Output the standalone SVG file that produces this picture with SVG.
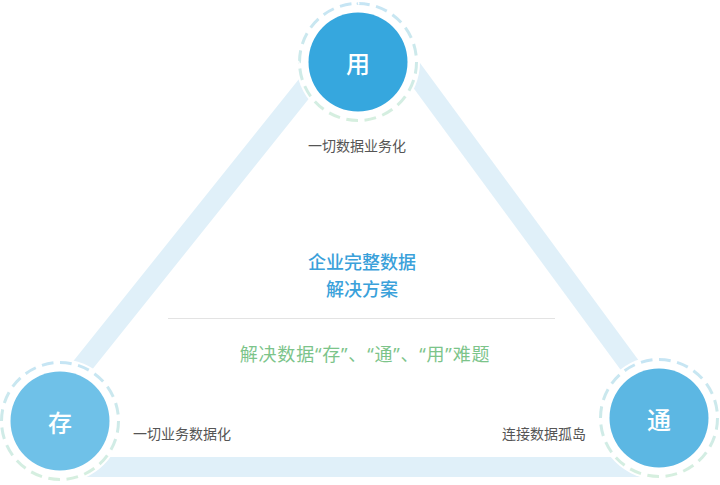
<svg xmlns="http://www.w3.org/2000/svg" width="720" height="485" viewBox="0 0 720 485">
<defs>
<linearGradient id="ringGrad" x1="0" y1="0" x2="0" y2="1">
<stop offset="0" stop-color="#c6e5f4"/>
<stop offset="1" stop-color="#d6efdf"/>
</linearGradient>
<style>
.band{stroke:#e0f0f9;stroke-width:20;fill:none}
.halo{fill:#ffffff}
.ring{fill:none;stroke:url(#ringGrad);stroke-width:3;stroke-dasharray:3.2 1.8}
.glyph{font-family:"Noto Sans CJK SC","Noto Sans",sans-serif;font-size:24px;font-weight:500;fill:#ffffff;text-anchor:middle;dominant-baseline:central}
.lbl{font-family:"Noto Sans CJK SC","Noto Sans",sans-serif;font-size:14px;fill:#555555}
.title{font-family:"Noto Sans CJK SC","Noto Sans",sans-serif;font-size:18px;font-weight:500;fill:#3aa1da;text-anchor:middle}
.sub{font-family:"Noto Sans CJK SC","Noto Sans",sans-serif;font-size:18px;letter-spacing:0.8px;fill:#7cc48a;text-anchor:middle}
.q{font-family:"Noto Sans",sans-serif}
</style>
</defs>
<rect width="720" height="485" fill="#ffffff"/>
<g id="connectors">
<line class="band" x1="343" y1="40" x2="39" y2="420"/>
<line class="band" x1="398" y1="50" x2="670" y2="420"/>
<line class="band" x1="60" y1="467" x2="659" y2="467"/>
</g>
<g id="node-yong">
<circle class="halo" cx="358" cy="62" r="62"/>
<circle class="ring" cx="358" cy="62" r="58.5" pathLength="100"/>
<circle cx="358" cy="62" r="49.5" fill="#36a7de"/>
<text class="glyph" x="358" y="62">用</text>
<text class="lbl" x="357" y="151" text-anchor="middle">一切数据业务化</text>
</g>
<g id="node-cun">
<circle class="halo" cx="60" cy="421" r="62"/>
<circle class="ring" cx="60" cy="421" r="58.5" pathLength="100"/>
<circle cx="60" cy="421" r="49.5" fill="#6fc1e8"/>
<text class="glyph" x="60" y="421">存</text>
<text class="lbl" x="133" y="439">一切业务数据化</text>
</g>
<g id="node-tong">
<circle class="halo" cx="659" cy="418" r="62"/>
<circle class="ring" cx="659" cy="418" r="58.5" pathLength="100"/>
<circle cx="659" cy="418" r="49.5" fill="#5cb7e3"/>
<text class="glyph" x="659" y="418">通</text>
<text class="lbl" x="502" y="439">连接数据孤岛</text>
</g>
<g id="center">
<text class="title" x="362" y="269">企业完整数据</text>
<text class="title" x="362" y="296">解决方案</text>
<line x1="168" y1="318.5" x2="555" y2="318.5" stroke="#e3e3e3" stroke-width="1"/>
<text class="sub" x="365" y="361">解决数据<tspan class="q">“</tspan>存<tspan class="q">”</tspan>、<tspan class="q">“</tspan>通<tspan class="q">”</tspan>、<tspan class="q">“</tspan>用<tspan class="q">”</tspan>难题</text>
</g>
</svg>
